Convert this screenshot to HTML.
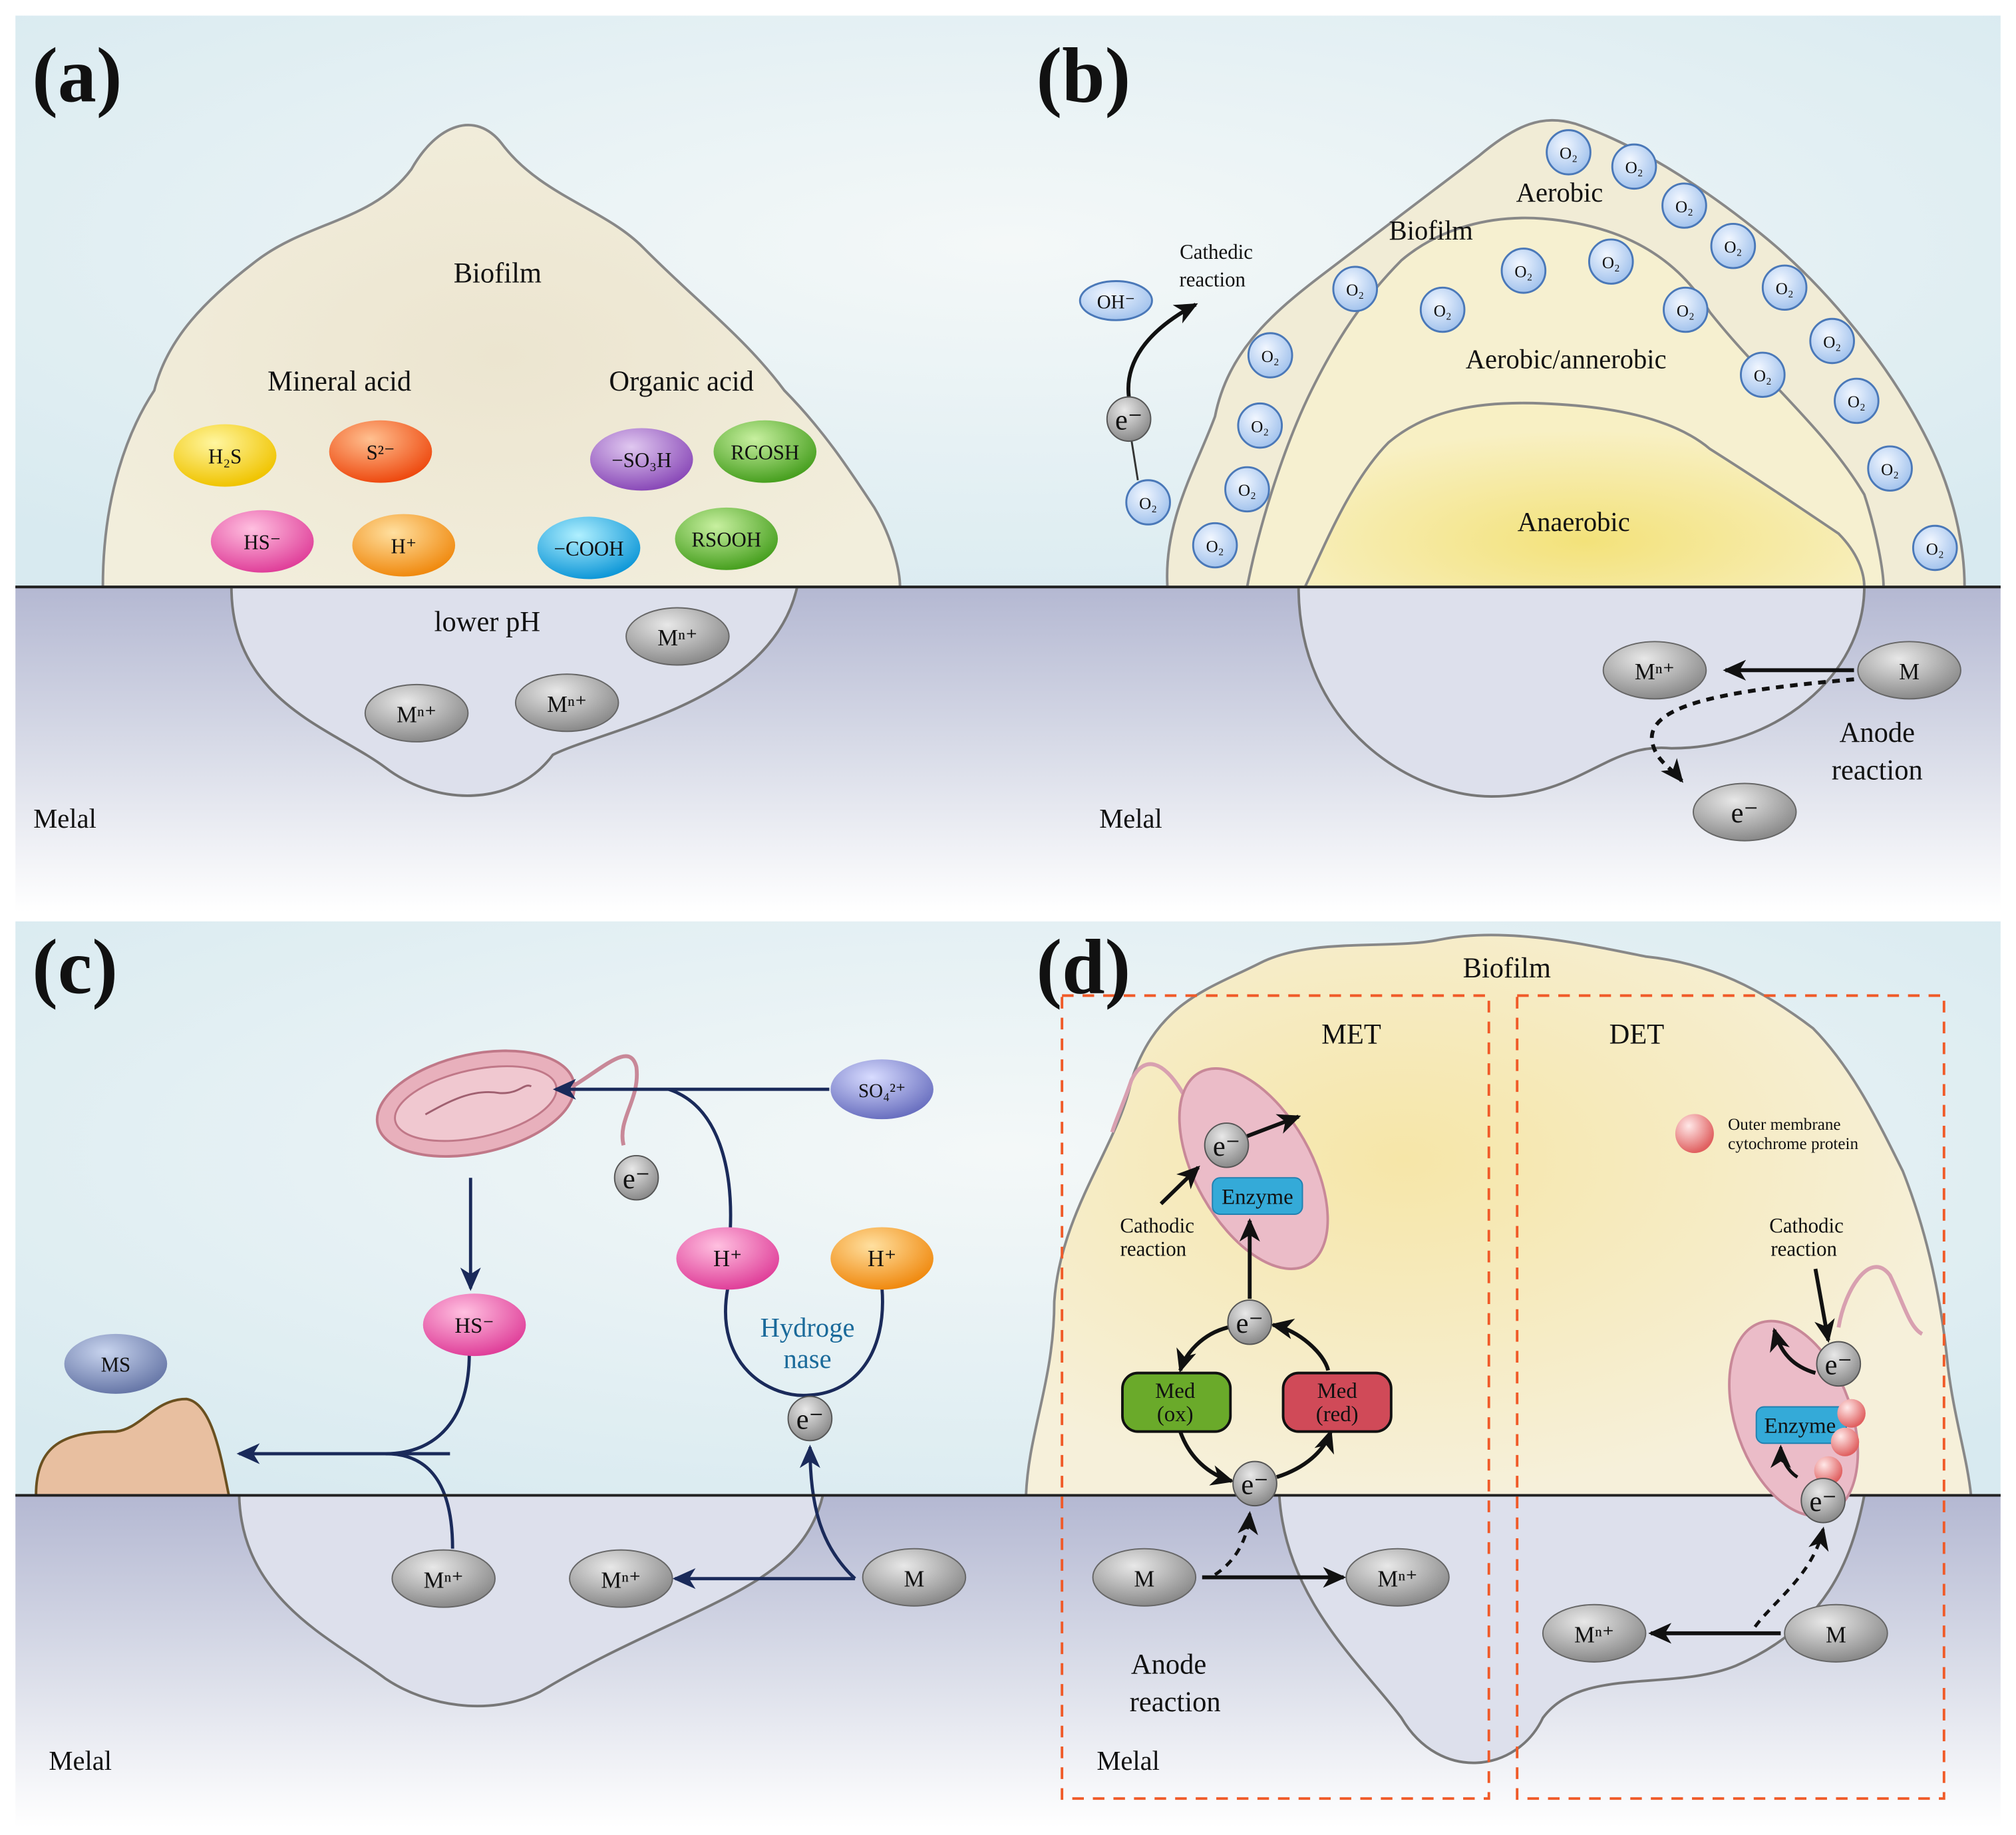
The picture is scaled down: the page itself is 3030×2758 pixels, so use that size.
<!DOCTYPE html>
<html><head><meta charset="utf-8"><style>
html,body{margin:0;padding:0;background:#fff;}
svg{display:block;}
text{font-family:"Liberation Serif",serif;fill:#111;}
</style></head><body>
<svg width="3030" height="2758" viewBox="0 0 1568 1410" preserveAspectRatio="none" xmlns="http://www.w3.org/2000/svg">
<defs>
<radialGradient id="sky" cx="0.5" cy="0.4" r="0.7"><stop offset="0" stop-color="#f4f8f8"/><stop offset="1" stop-color="#d8eaf0"/></radialGradient>
<linearGradient id="metal" x1="0" y1="0" x2="0" y2="1"><stop offset="0" stop-color="#b4b8d2"/><stop offset="0.55" stop-color="#dcdfea"/><stop offset="1" stop-color="#ffffff"/></linearGradient>
<radialGradient id="bioA" cx="0.5" cy="0.5" r="0.6"><stop offset="0" stop-color="#ece5d0"/><stop offset="1" stop-color="#f2eedc"/></radialGradient>
<radialGradient id="yel" cx="0.5" cy="0.75" r="0.6"><stop offset="0" stop-color="#f3e27a"/><stop offset="1" stop-color="#f8f0c4"/></radialGradient>
<radialGradient id="bioD" cx="0.4" cy="0.4" r="0.6"><stop offset="0" stop-color="#f6e6a8"/><stop offset="1" stop-color="#f6f0da"/></radialGradient>
<radialGradient id="grey" cx="0.4" cy="0.3" r="0.7"><stop offset="0" stop-color="#e8e8e8"/><stop offset="1" stop-color="#8a8a8a"/></radialGradient>
<radialGradient id="o2" cx="0.4" cy="0.35" r="0.7"><stop offset="0" stop-color="#f2f7ff"/><stop offset="1" stop-color="#9ec0ec"/></radialGradient>
<radialGradient id="yl" cx="0.4" cy="0.3" r="0.7"><stop offset="0" stop-color="#fff6a0"/><stop offset="1" stop-color="#f0c400"/></radialGradient>
<radialGradient id="or" cx="0.4" cy="0.3" r="0.7"><stop offset="0" stop-color="#ffc090"/><stop offset="1" stop-color="#ee4a10"/></radialGradient>
<radialGradient id="pk" cx="0.4" cy="0.3" r="0.7"><stop offset="0" stop-color="#ffc0e0"/><stop offset="1" stop-color="#e0409a"/></radialGradient>
<radialGradient id="og" cx="0.4" cy="0.3" r="0.7"><stop offset="0" stop-color="#ffe0a0"/><stop offset="1" stop-color="#f08a10"/></radialGradient>
<radialGradient id="pu" cx="0.4" cy="0.3" r="0.7"><stop offset="0" stop-color="#e0c8f0"/><stop offset="1" stop-color="#8a4ab8"/></radialGradient>
<radialGradient id="gr" cx="0.4" cy="0.3" r="0.7"><stop offset="0" stop-color="#c8f0a0"/><stop offset="1" stop-color="#48a020"/></radialGradient>
<radialGradient id="bl" cx="0.4" cy="0.3" r="0.7"><stop offset="0" stop-color="#b0f0ff"/><stop offset="1" stop-color="#1098d8"/></radialGradient>
<radialGradient id="sb" cx="0.4" cy="0.3" r="0.7"><stop offset="0" stop-color="#d8dcff"/><stop offset="1" stop-color="#6a70c0"/></radialGradient>
<radialGradient id="ms" cx="0.4" cy="0.3" r="0.7"><stop offset="0" stop-color="#c8d4ee"/><stop offset="1" stop-color="#6878a8"/></radialGradient>
<radialGradient id="rs" cx="0.35" cy="0.3" r="0.7"><stop offset="0" stop-color="#ffe8e8"/><stop offset="1" stop-color="#e06060"/></radialGradient>
<marker id="ar" markerWidth="8" markerHeight="8" refX="6" refY="4" orient="auto" markerUnits="userSpaceOnUse" viewBox="0 0 8 8"><path d="M0,0 L8,4 L0,8 L2,4z" fill="#111"/></marker>
<marker id="an" markerWidth="20" markerHeight="16" refX="16" refY="8" orient="auto" markerUnits="userSpaceOnUse"><path d="M0,0 L18,8 L0,16 L5,8z" fill="#1a2a5a"/></marker>
<marker id="ak" markerWidth="20" markerHeight="16" refX="16" refY="8" orient="auto" markerUnits="userSpaceOnUse"><path d="M0,0 L18,8 L0,16 L5,8z" fill="#111"/></marker>
</defs>
<rect width="1568" height="1410" fill="#fff"/>
<!-- backgrounds -->
<rect x="12" y="12" width="1544" height="440" fill="url(#sky)"/>
<rect x="12" y="451" width="1544" height="250" fill="url(#metal)"/>
<rect x="12" y="708" width="1544" height="442" fill="url(#sky)"/>
<rect x="12" y="1149" width="1544" height="255" fill="url(#metal)"/>

<!-- PANEL A -->
<path d="M180,451 C180,540 260,560 300,590 C340,620 400,620 430,580 C470,560 600,540 620,451 Z" fill="#dde0ec" stroke="#777" stroke-width="2"/>
<path d="M80,451 C80,380 100,330 120,300 C130,260 160,230 200,200 C240,170 290,170 320,130 C340,95 370,85 390,110 C420,150 470,160 500,190 C540,230 580,260 610,300 C640,330 660,360 680,390 C695,415 700,440 700,451 Z" fill="url(#bioA)" stroke="#888" stroke-width="2"/>
<line x1="12" y1="451" x2="1556" y2="451" stroke="#222" stroke-width="2"/>
<text x="25" y="78" font-size="60" font-weight="bold">(a)</text>
<text x="387" y="217" font-size="22" text-anchor="middle">Biofilm</text>
<text x="264" y="300" font-size="22" text-anchor="middle">Mineral acid</text>
<text x="530" y="300" font-size="22" text-anchor="middle">Organic acid</text>
<g font-size="16" text-anchor="middle">
<ellipse cx="175" cy="350" rx="40" ry="24" fill="url(#yl)"/><text x="175" y="356">H₂S</text>
<ellipse cx="296" cy="347" rx="40" ry="24" fill="url(#or)"/><text x="296" y="353">S²⁻</text>
<ellipse cx="204" cy="416" rx="40" ry="24" fill="url(#pk)"/><text x="204" y="422">HS⁻</text>
<ellipse cx="314" cy="419" rx="40" ry="24" fill="url(#og)"/><text x="314" y="425">H⁺</text>
<ellipse cx="499" cy="353" rx="40" ry="24" fill="url(#pu)"/><text x="499" y="359">−SO₃H</text>
<ellipse cx="595" cy="347" rx="40" ry="24" fill="url(#gr)"/><text x="595" y="353">RCOSH</text>
<ellipse cx="458" cy="421" rx="40" ry="24" fill="url(#bl)"/><text x="458" y="427">−COOH</text>
<ellipse cx="565" cy="414" rx="40" ry="24" fill="url(#gr)"/><text x="565" y="420">RSOOH</text>
</g>
<text x="379" y="485" font-size="22" text-anchor="middle">lower pH</text>
<g font-size="18" text-anchor="middle">
<ellipse cx="527" cy="489" rx="40" ry="22" fill="url(#grey)" stroke="#666"/><text x="527" y="496">Mⁿ⁺</text>
<ellipse cx="324" cy="548" rx="40" ry="22" fill="url(#grey)" stroke="#666"/><text x="324" y="555">Mⁿ⁺</text>
<ellipse cx="441" cy="540" rx="40" ry="22" fill="url(#grey)" stroke="#666"/><text x="441" y="547">Mⁿ⁺</text>
</g>
<text x="26" y="636" font-size="21">Melal</text>

<!-- PANEL B -->
<path d="M1010,451 C1010,560 1100,612 1160,612 C1230,612 1250,570 1300,575 C1380,575 1450,520 1450,451 Z" fill="#dde0ec" stroke="#777" stroke-width="2"/>
<path d="M908,451 C905,400 930,360 945,320 C955,270 990,240 1030,210 C1070,180 1110,150 1150,120 C1180,95 1200,88 1225,95 C1270,110 1320,140 1370,180 C1420,220 1470,280 1500,340 C1520,380 1528,420 1528,451 Z" fill="#f1ecd6" stroke="#888" stroke-width="2"/>
<path d="M970,451 C980,400 1000,340 1020,300 C1040,260 1060,230 1090,200 C1120,175 1160,165 1200,168 C1250,172 1300,190 1330,240 C1370,290 1420,330 1450,380 C1460,410 1465,440 1465,451 Z" fill="#f6f0d0" stroke="#888" stroke-width="2"/>
<path d="M1015,451 C1030,420 1050,370 1080,340 C1110,315 1150,308 1200,310 C1250,312 1300,320 1330,345 C1370,370 1400,390 1430,410 C1445,425 1450,440 1450,451 Z" fill="url(#yel)" stroke="#888" stroke-width="2"/>
<line x1="12" y1="451" x2="1556" y2="451" stroke="#222" stroke-width="2"/>
<text x="806" y="78" font-size="60" font-weight="bold">(b)</text>
<text x="1213" y="155" font-size="21" text-anchor="middle">Aerobic</text>
<text x="1113" y="184" font-size="21" text-anchor="middle">Biofilm</text>
<text x="1218" y="283" font-size="21" text-anchor="middle">Aerobic/annerobic</text>
<text x="1224" y="408" font-size="21" text-anchor="middle">Anaerobic</text>
<g font-size="13" text-anchor="middle">
<g fill="url(#o2)" stroke="#4a78b8" stroke-width="1.5">
<circle cx="1220" cy="117" r="17"/><circle cx="1271" cy="128" r="17"/><circle cx="1310" cy="158" r="17"/><circle cx="1348" cy="189" r="17"/><circle cx="1388" cy="221" r="17"/><circle cx="1425" cy="262" r="17"/><circle cx="1444" cy="308" r="17"/><circle cx="1470" cy="360" r="17"/><circle cx="1505" cy="421" r="17"/><circle cx="1054" cy="222" r="17"/><circle cx="1122" cy="238" r="17"/><circle cx="1185" cy="208" r="17"/><circle cx="1253" cy="201" r="17"/><circle cx="1311" cy="238" r="17"/><circle cx="1371" cy="288" r="17"/><circle cx="988" cy="273" r="17"/><circle cx="980" cy="327" r="17"/><circle cx="970" cy="376" r="17"/><circle cx="945" cy="419" r="17"/><circle cx="893" cy="386" r="17"/>
</g>
<text x="1220" y="122">O₂</text><text x="1271" y="133">O₂</text><text x="1310" y="163">O₂</text><text x="1348" y="194">O₂</text><text x="1388" y="226">O₂</text><text x="1425" y="267">O₂</text><text x="1444" y="313">O₂</text><text x="1470" y="365">O₂</text><text x="1505" y="426">O₂</text><text x="1054" y="227">O₂</text><text x="1122" y="243">O₂</text><text x="1185" y="213">O₂</text><text x="1253" y="206">O₂</text><text x="1311" y="243">O₂</text><text x="1371" y="293">O₂</text><text x="988" y="278">O₂</text><text x="980" y="332">O₂</text><text x="970" y="381">O₂</text><text x="945" y="424">O₂</text><text x="893" y="391">O₂</text>
</g>
<ellipse cx="868" cy="231" rx="28" ry="15" fill="url(#o2)" stroke="#4a78b8" stroke-width="1.5"/>
<text x="868" y="237" font-size="15" text-anchor="middle">OH⁻</text>
<path d="M885,369 L880,338" stroke="#333" stroke-width="1.5" fill="none"/>
<path d="M878,305 C875,280 890,255 930,234" stroke="#111" stroke-width="3" fill="none" marker-end="url(#ak)"/>
<circle cx="878" cy="322" r="17" fill="url(#grey)" stroke="#555"/><text x="878" y="330" font-size="22" text-anchor="middle">e⁻</text>
<text x="946" y="199" font-size="16" text-anchor="middle">Cathedic</text>
<text x="943" y="220" font-size="16" text-anchor="middle">reaction</text>
<ellipse cx="1287" cy="515" rx="40" ry="22" fill="url(#grey)" stroke="#666"/><text x="1287" y="522" font-size="18" text-anchor="middle">Mⁿ⁺</text>
<ellipse cx="1485" cy="515" rx="40" ry="22" fill="url(#grey)" stroke="#666"/><text x="1485" y="522" font-size="18" text-anchor="middle">M</text>
<line x1="1442" y1="515" x2="1342" y2="515" stroke="#111" stroke-width="3" marker-end="url(#ak)"/>
<path d="M1442,522 C1350,530 1280,540 1285,570 C1288,585 1300,590 1308,600" stroke="#111" stroke-width="3" stroke-dasharray="6,5" fill="none" marker-end="url(#ak)"/>
<ellipse cx="1357" cy="624" rx="40" ry="22" fill="url(#grey)" stroke="#666"/><text x="1357" y="632" font-size="22" text-anchor="middle">e⁻</text>
<text x="1460" y="570" font-size="22" text-anchor="middle">Anode</text>
<text x="1460" y="599" font-size="22" text-anchor="middle">reaction</text>
<text x="855" y="636" font-size="21">Melal</text>

<!-- PANEL C -->
<path d="M186,1149 C188,1230 260,1260 300,1290 C330,1310 380,1320 420,1300 C470,1270 520,1250 560,1230 C600,1210 630,1190 640,1149 Z" fill="#dde0ec" stroke="#777" stroke-width="2"/>
<path d="M28,1149 C28,1110 50,1100 90,1100 C110,1098 120,1075 145,1075 C165,1078 172,1120 178,1149 Z" fill="#e8bfa0" stroke="#6a5020" stroke-width="2"/>
<line x1="12" y1="1149" x2="1556" y2="1149" stroke="#222" stroke-width="2"/>
<text x="25" y="763" font-size="60" font-weight="bold">(c)</text>
<g transform="translate(370,848) rotate(-12)">
<ellipse rx="78" ry="38" fill="#e8b0bc" stroke="#c07888" stroke-width="2"/>
<ellipse rx="64" ry="26" fill="#f0c8d0" stroke="#c07888" stroke-width="1.5"/>
<path d="M-40,0 C-20,-6 0,-12 20,-4 C35,0 40,-8 45,-4" stroke="#a06070" fill="none" stroke-width="1.5"/>
</g>
<path d="M445,835 C470,820 490,800 495,820 C498,845 480,860 485,880" stroke="#c88898" stroke-width="3" fill="none"/>
<circle cx="495" cy="905" r="17" fill="url(#grey)" stroke="#555"/><text x="495" y="913" font-size="22" text-anchor="middle">e⁻</text>
<ellipse cx="686" cy="837" rx="40" ry="23" fill="url(#sb)"/><text x="686" y="843" font-size="15" text-anchor="middle">SO₄²⁺</text>
<g stroke="#1a2a5a" stroke-width="2.5" fill="none">
<line x1="645" y1="837" x2="432" y2="837" marker-end="url(#an)"/>
<path d="M568,945 C570,900 560,850 520,837"/>
<path d="M566,990 C555,1050 600,1075 630,1072 C665,1070 690,1040 686,990"/>
<line x1="366" y1="905" x2="366" y2="990" marker-end="url(#an)"/>
<path d="M365,1040 C365,1090 340,1117 300,1117"/>
<path d="M352,1190 C352,1150 340,1117 300,1117"/>
<line x1="350" y1="1117" x2="186" y2="1117" marker-end="url(#an)"/>
<line x1="665" y1="1213" x2="525" y2="1213" marker-end="url(#an)"/>
<path d="M665,1213 C640,1190 630,1160 630,1112" marker-end="url(#an)"/>
</g>
<ellipse cx="566" cy="967" rx="40" ry="24" fill="url(#pk)"/><text x="566" y="973" font-size="18" text-anchor="middle">H⁺</text>
<ellipse cx="686" cy="967" rx="40" ry="24" fill="url(#og)"/><text x="686" y="973" font-size="18" text-anchor="middle">H⁺</text>
<text x="628" y="1027" font-size="21" text-anchor="middle" style="fill:#1a6a9a">Hydroge</text>
<text x="628" y="1051" font-size="21" text-anchor="middle" style="fill:#1a6a9a">nase</text>
<circle cx="630" cy="1090" r="17" fill="url(#grey)" stroke="#555"/><text x="630" y="1098" font-size="22" text-anchor="middle">e⁻</text>
<ellipse cx="369" cy="1018" rx="40" ry="24" fill="url(#pk)"/><text x="369" y="1024" font-size="17" text-anchor="middle">HS⁻</text>
<ellipse cx="90" cy="1048" rx="40" ry="23" fill="url(#ms)"/><text x="90" y="1054" font-size="16" text-anchor="middle">MS</text>
<ellipse cx="345" cy="1213" rx="40" ry="22" fill="url(#grey)" stroke="#666"/><text x="345" y="1220" font-size="18" text-anchor="middle">Mⁿ⁺</text>
<ellipse cx="483" cy="1213" rx="40" ry="22" fill="url(#grey)" stroke="#666"/><text x="483" y="1220" font-size="18" text-anchor="middle">Mⁿ⁺</text>
<ellipse cx="711" cy="1212" rx="40" ry="22" fill="url(#grey)" stroke="#666"/><text x="711" y="1219" font-size="18" text-anchor="middle">M</text>
<text x="38" y="1360" font-size="21">Melal</text>

<!-- PANEL D -->
<path d="M995,1149 C1000,1230 1060,1280 1090,1320 C1120,1370 1180,1362 1200,1320 C1230,1280 1300,1300 1350,1280 C1420,1250 1440,1200 1450,1149 Z" fill="#dde0ec" stroke="#777" stroke-width="2"/>
<path d="M798,1149 C800,1100 820,1060 820,1000 C825,930 870,880 880,830 C900,770 940,760 980,740 C1020,720 1080,730 1120,722 C1170,712 1230,725 1280,735 C1330,740 1370,760 1410,790 C1440,820 1460,860 1480,900 C1500,950 1510,1000 1515,1050 C1520,1090 1530,1120 1533,1149 Z" fill="url(#bioD)" stroke="#888" stroke-width="2"/>
<line x1="12" y1="1149" x2="1556" y2="1149" stroke="#222" stroke-width="2"/>
<rect x="826" y="765" width="332" height="617" fill="none" stroke="#f05a28" stroke-width="2" stroke-dasharray="9,7"/>
<rect x="1180" y="765" width="332" height="617" fill="none" stroke="#f05a28" stroke-width="2" stroke-dasharray="9,7"/>
<text x="806" y="763" font-size="60" font-weight="bold">(d)</text>
<text x="1172" y="751" font-size="22" text-anchor="middle">Biofilm</text>
<text x="1051" y="802" font-size="22" text-anchor="middle">MET</text>
<text x="1273" y="802" font-size="22" text-anchor="middle">DET</text>
<!-- MET bacterium -->
<path d="M920,840 C905,815 890,810 880,830 C875,845 868,860 865,870" stroke="#d8a0b0" stroke-width="3" fill="none"/>
<g transform="translate(975,898) rotate(60)">
<ellipse rx="85" ry="45" fill="#ebbcc8" stroke="#c88898" stroke-width="2"/>
</g>
<circle cx="954" cy="880" r="17" fill="url(#grey)" stroke="#555"/><text x="954" y="888" font-size="22" text-anchor="middle">e⁻</text>
<line x1="970" y1="873" x2="1010" y2="858" stroke="#111" stroke-width="3" marker-end="url(#ak)"/>
<line x1="903" y1="925" x2="932" y2="897" stroke="#111" stroke-width="3" marker-end="url(#ak)"/>
<rect x="943" y="905" width="70" height="28" rx="6" fill="#34aad8" stroke="#2080b0"/><text x="978" y="925" font-size="17" text-anchor="middle">Enzyme</text>
<text x="900" y="947" font-size="16" text-anchor="middle">Cathodic</text>
<text x="897" y="965" font-size="16" text-anchor="middle">reaction</text>
<line x1="972" y1="998" x2="972" y2="938" stroke="#111" stroke-width="3" marker-end="url(#ak)"/>
<g stroke="#111" stroke-width="3" fill="none">
<path d="M955,1020 C935,1025 922,1040 918,1053" marker-end="url(#ak)"/>
<path d="M1033,1053 C1030,1040 1010,1022 990,1018" marker-end="url(#ak)"/>
<path d="M918,1100 C925,1120 940,1133 958,1138" marker-end="url(#ak)"/>
<path d="M993,1135 C1015,1128 1030,1115 1035,1100" marker-end="url(#ak)"/>
</g>
<circle cx="972" cy="1016" r="17" fill="url(#grey)" stroke="#555"/><text x="972" y="1024" font-size="22" text-anchor="middle">e⁻</text>
<rect x="873" y="1055" width="84" height="45" rx="12" fill="#6aaa2a" stroke="#111" stroke-width="2"/>
<text x="914" y="1074" font-size="17" text-anchor="middle">Med</text><text x="914" y="1092" font-size="17" text-anchor="middle">(ox)</text>
<rect x="998" y="1055" width="84" height="45" rx="12" fill="#d04a58" stroke="#111" stroke-width="2"/>
<text x="1040" y="1074" font-size="17" text-anchor="middle">Med</text><text x="1040" y="1092" font-size="17" text-anchor="middle">(red)</text>
<circle cx="976" cy="1140" r="17" fill="url(#grey)" stroke="#555"/><text x="976" y="1148" font-size="22" text-anchor="middle">e⁻</text>
<path d="M945,1210 C960,1200 970,1185 972,1163" stroke="#111" stroke-width="2.5" stroke-dasharray="6,5" fill="none" marker-end="url(#ak)"/>
<ellipse cx="890" cy="1212" rx="40" ry="22" fill="url(#grey)" stroke="#666"/><text x="890" y="1219" font-size="18" text-anchor="middle">M</text>
<line x1="935" y1="1212" x2="1045" y2="1212" stroke="#111" stroke-width="3" marker-end="url(#ak)"/>
<ellipse cx="1087" cy="1212" rx="40" ry="22" fill="url(#grey)" stroke="#666"/><text x="1087" y="1219" font-size="18" text-anchor="middle">Mⁿ⁺</text>
<text x="909" y="1286" font-size="22" text-anchor="middle">Anode</text>
<text x="914" y="1315" font-size="22" text-anchor="middle">reaction</text>
<text x="853" y="1360" font-size="21">Melal</text>
<!-- DET -->
<circle cx="1318" cy="871" r="15" fill="url(#rs)"/>
<text x="1344" y="868" font-size="13">Outer membrane</text>
<text x="1344" y="883" font-size="13">cytochrome protein</text>
<text x="1405" y="947" font-size="16" text-anchor="middle">Cathodic</text>
<text x="1403" y="965" font-size="16" text-anchor="middle">reaction</text>
<path d="M1430,1020 C1435,990 1455,960 1470,980 C1480,1000 1485,1020 1495,1025" stroke="#d8a0b0" stroke-width="3" fill="none"/>
<g transform="translate(1395,1090) rotate(70)">
<ellipse rx="78" ry="45" fill="#ebbcc8" stroke="#c88898" stroke-width="2"/>
</g>
<line x1="1412" y1="975" x2="1422" y2="1030" stroke="#111" stroke-width="3" marker-end="url(#ak)"/>
<path d="M1412,1055 C1395,1050 1385,1040 1380,1022" stroke="#111" stroke-width="3" fill="none" marker-end="url(#ak)"/>
<circle cx="1430" cy="1048" r="17" fill="url(#grey)" stroke="#555"/><text x="1430" y="1056" font-size="22" text-anchor="middle">e⁻</text>
<rect x="1366" y="1081" width="70" height="28" rx="6" fill="#34aad8" stroke="#2080b0"/><text x="1400" y="1101" font-size="17" text-anchor="middle">Enzyme</text>
<path d="M1398,1135 C1390,1130 1385,1120 1385,1112" stroke="#111" stroke-width="2.5" fill="none" marker-end="url(#ak)"/>
<circle cx="1440" cy="1086" r="11" fill="url(#rs)"/><circle cx="1435" cy="1108" r="11" fill="url(#rs)"/><circle cx="1422" cy="1130" r="11" fill="url(#rs)"/>
<circle cx="1418" cy="1153" r="17" fill="url(#grey)" stroke="#555"/><text x="1418" y="1161" font-size="22" text-anchor="middle">e⁻</text>
<path d="M1365,1250 C1380,1230 1410,1210 1418,1175" stroke="#111" stroke-width="2.5" stroke-dasharray="6,5" fill="none" marker-end="url(#ak)"/>
<ellipse cx="1240" cy="1255" rx="40" ry="22" fill="url(#grey)" stroke="#666"/><text x="1240" y="1262" font-size="18" text-anchor="middle">Mⁿ⁺</text>
<ellipse cx="1428" cy="1255" rx="40" ry="22" fill="url(#grey)" stroke="#666"/><text x="1428" y="1262" font-size="18" text-anchor="middle">M</text>
<line x1="1385" y1="1255" x2="1284" y2="1255" stroke="#111" stroke-width="3" marker-end="url(#ak)"/>
</svg>
</body></html>
